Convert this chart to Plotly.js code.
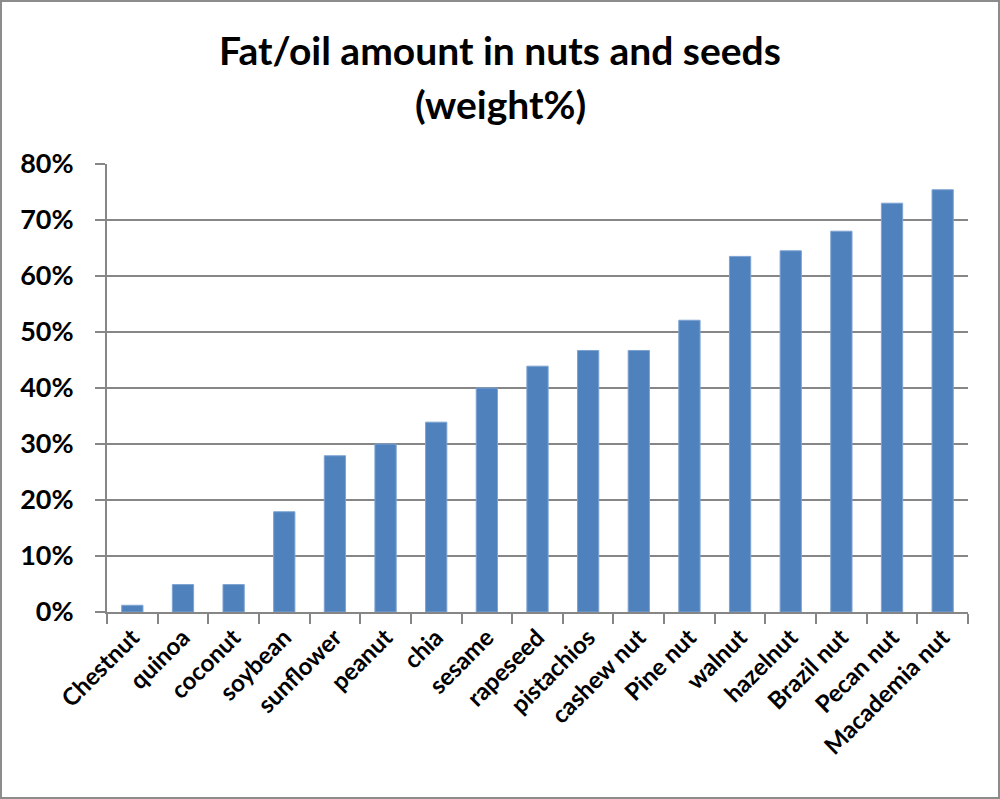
<!DOCTYPE html>
<html>
<head>
<meta charset="utf-8">
<script src="https://cdn.plot.ly/plotly-3.0.1.min.js"></script>
<style>
html,body{margin:0;padding:0;background:#fff;}
#wrap{position:relative;width:1000px;height:799px;}
#chart{width:1000px;height:799px;}
#frame{position:absolute;left:0;top:0;width:1000px;height:799px;box-sizing:border-box;border:2px solid #8c8c8c;pointer-events:none;}
</style>
</head>
<body>
<div id="wrap"><div id="chart"></div><div id="frame"></div></div>
<script>
const categories = ["Chestnut","quinoa","coconut","soybean","sunflower","peanut","chia","sesame","rapeseed","pistachios","cashew nut","Pine nut","walnut","hazelnut","Brazil nut","Pecan nut","Macademia nut"];
const fatShare = [0.012,0.049,0.049,0.179,0.279,0.30,0.339,0.40,0.439,0.467,0.467,0.521,0.635,0.645,0.68,0.73,0.754];
const yTickVals = [0,0.1,0.2,0.3,0.4,0.5,0.6,0.7,0.8];
const yTickText = ["0%","10%","20%","30%","40%","50%","60%","70%","80%"];

const font = "Lato, 'Open Sans', sans-serif";
const trace = {
  type: "bar",
  x: categories,
  y: fatShare,
  marker: {color: "#4f81bd", line: {color: "#7ea3d2", width: 1}},
  hoverinfo: "x+y"
};
const layout = {
  width: 1000, height: 799,
  margin: {l: 107, r: 32, t: 164, b: 187},
  paper_bgcolor: "#fff", plot_bgcolor: "#fff",
  bargap: 0.58,
  showlegend: false,
  font: {family: font, color: "#000"},
  title: {
    text: "Fat/oil amount in nuts and seeds",
    font: {family: font, size: 39, weight: 700, color: "#000"},
    x: 0.5, xref: "container", xanchor: "center", y: 1 - 51 / 799, yref: "container", yanchor: "middle"
  },
  annotations: [{
    text: "(weight%)", xref: "paper", yref: "paper", x: (500 - 107) / 861, y: 1 + (164 - 104) / 448,
    yanchor: "middle", xanchor: "center", showarrow: false,
    font: {family: font, size: 39, weight: 700, color: "#000"}
  }],
  xaxis: {
    type: "category",
    tickangle: -45,
    ticks: "outside", ticklen: 10, tickwidth: 2, tickcolor: "#868686",
    tickson: "boundaries",
    showline: true, linecolor: "#868686", linewidth: 2,
    showgrid: false,
    tickfont: {family: font, size: 24, weight: 700, color: "#000"}
  },
  yaxis: {
    range: [0, 0.8],
    tickvals: yTickVals, ticktext: yTickText,
    ticks: "outside", ticklen: 10, tickwidth: 2, tickcolor: "#868686",
    ticklabelstandoff: 16,
    showline: true, linecolor: "#868686", linewidth: 2,
    showgrid: true, gridcolor: "#868686", gridwidth: 2,
    zeroline: false,
    tickfont: {family: font, size: 27, weight: 700, color: "#000"}
  }
};
Plotly.newPlot("chart", [trace], layout, {displayModeBar: false, staticPlot: true});
</script>
</body>
</html>
